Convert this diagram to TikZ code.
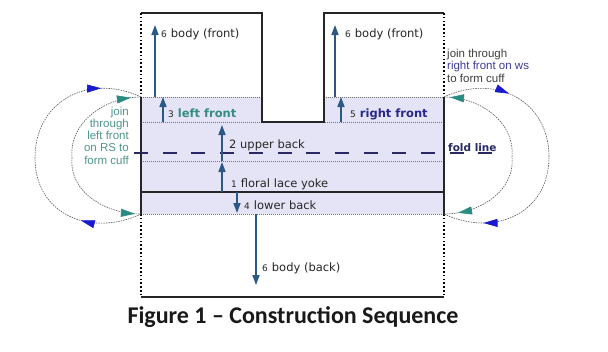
\documentclass[tikz,border=0pt]{standalone}
\usepackage{fontspec}
\setmainfont{DejaVu Sans}
\newfontfamily\notefont{Liberation Sans}
\newfontfamily\capfont{Carlito}
\usetikzlibrary{arrows.meta,decorations.markings}
\definecolor{panel}{RGB}{228,228,246}
\definecolor{stepblue}{RGB}{42,88,135}
\definecolor{foldnavy}{RGB}{40,40,100}
\definecolor{frontteal}{RGB}{52,140,132}
\definecolor{notteal}{RGB}{78,150,140}
\definecolor{frontnavy}{RGB}{40,40,140}
\definecolor{notenavy}{RGB}{60,60,150}
\definecolor{cuffblue}{RGB}{25,25,205}
\definecolor{cuffteal}{RGB}{40,140,130}
\newcommand{\stepno}[1]{{\fontsize{9pt}{10pt}\selectfont #1}\hspace{4pt}}

\begin{document}
\begin{tikzpicture}[x=1pt,y=1pt,outline/.style={draw=black!85,line width=1.4pt},sidedots/.style={draw=black,line width=1.6pt,dash pattern=on 1.6pt off 2.2pt},seam/.style={draw=black!55,line width=0.6pt,dash pattern=on 1pt off 1pt},fold/.style={draw=foldnavy,line width=1.5pt,dash pattern=on 14pt off 14.7pt},stepedge/.style={draw=stepblue,line width=1.6pt,-{Triangle[length=10pt,width=7pt]}},lbl/.style={anchor=base west,inner sep=0pt,text=black!85,font=\fontsize{11.5pt}{13pt}\selectfont},note/.style={inner sep=0pt,font=\notefont\fontsize{11.5pt}{12.3pt}\selectfont},cuff/.style={draw=black!65,line width=0.6pt,dash pattern=on 1.5pt off 1pt},caption/.style={anchor=base,inner sep=0pt,text=black!90,font=\capfont\bfseries\fontsize{24pt}{28pt}\selectfont}]
\useasboundingbox[fill=white] (0,0) rectangle (608,-351);
% shaded pieces
\fill[panel] (141,-97) -- (262,-97) -- (262,-122) -- (324,-122) -- (324,-97) -- (444,-97) -- (444,-214) -- (141,-214) -- cycle;
\draw[seam] (141,-97) -- (262,-97) (324,-97) -- (444,-97);
\draw[seam] (141,-122) -- (444,-122);
\draw[seam] (141,-161) -- (444,-161);
\draw[seam] (141,-214) -- (444,-214);
\draw[fold] (134,-153) -- (497,-153);
% outline
\draw[outline] (141,-13) -- (262,-13) -- (262,-122) -- (324,-122) -- (324,-13) -- (444,-13);
\draw[outline] (141,-97) -- (141,-214) (444,-97) -- (444,-214);
\draw[outline] (141,-192) -- (444,-192);
\draw[outline] (141,-297) -- (444,-297);
\draw[sidedots] (141,-13) -- (141,-97) (141,-214) -- (141,-297);
\draw[sidedots] (444,-13) -- (444,-97) (444,-214) -- (444,-297);
% arrow ends
\coordinate (f6l0) at (155,-97);
\coordinate (f6l1) at (155,-25);
\coordinate (lf0) at (163,-122);
\coordinate (lf1) at (163,-97);
\coordinate (ub0) at (222,-161);
\coordinate (ub1) at (222,-125);
\coordinate (ly0) at (222,-192);
\coordinate (ly1) at (222,-162);
\coordinate (lb0) at (237,-192);
\coordinate (lb1) at (237,-213);
\coordinate (bb0) at (256,-214);
\coordinate (bb1) at (256,-285);
\coordinate (f6r0) at (335,-97);
\coordinate (f6r1) at (335,-25);
\coordinate (rf0) at (341,-122);
\coordinate (rf1) at (341,-97);
% labels
\node[lbl] (tf6l) at (161,-37) {\stepno{6}body (front)};
\node[lbl] (tlf) at (168,-117) {\stepno{3}\textcolor{frontteal}{\bfseries left front}};
\node[lbl] (tub) at (229,-148) {2 upper back};
\node[lbl] (tly) at (231,-187) {\stepno{1}floral lace yoke};
\node[lbl] (tlb) at (244,-209) {\stepno{4}lower back};
\node[lbl] (tbb) at (262,-271) {\stepno{6}body (back)};
\node[lbl] (tf6r) at (345,-37) {\stepno{6}body (front)};
\node[lbl] (trf) at (350,-117) {\stepno{5}\textcolor{frontnavy}{\bfseries right front}};
\node[lbl,text=foldnavy,font=\fontsize{10.5pt}{12pt}\selectfont\bfseries] (tfold) at (448,-151) {fold line};
\node[note,anchor=north east,align=right,text=notteal] (jl) at (129,-106.5) {join\\through\\left front\\on RS to\\form cuff};
\node[note,anchor=north west,align=left,text=black!75] (jr) at (447,-49) {join through\\\textcolor{notenavy}{right front on ws}\\to form cuff};
\node[caption] (cap) at (293,-323) {Figure 1 – Construction Sequence};
% step arrows
\draw[stepedge] (f6l0) -- (f6l1);
\draw[stepedge] (lf0) -- (lf1);
\draw[stepedge] (ub0) -- (ub1);
\draw[stepedge] (ly0) -- (ly1);
\draw[stepedge] (lb0) -- (lb1);
\draw[stepedge] (bb0) -- (bb1);
\draw[stepedge] (f6r0) -- (f6r1);
\draw[stepedge] (rf0) -- (rf1);
% cuff joins
\coordinate (lt) at (141,-97);
\coordinate (lbt) at (141,-214);
\coordinate (lo) at (35,-158);
\coordinate (li) at (72,-158);
\coordinate (rt) at (444,-97);
\coordinate (rbt) at (444,-214);
\coordinate (ro) at (549,-157);
\coordinate (ri) at (512,-157);
\draw[cuff,postaction={decorate,decoration={markings,mark=at position 0.21 with {\arrow{Triangle[length=14pt,width=8pt,color=cuffblue]}},mark=at position 0.86 with {\arrow{Triangle[length=14pt,width=8pt,color=cuffblue]}}}}] (lbt) to[out=205,in=-90,looseness=1.2] (lo) to[out=90,in=155,looseness=1.2] (lt);
\draw[cuff,postaction={decorate,decoration={markings,mark=at position 0.05 with {\arrowreversed{Triangle[length=14pt,width=8pt,color=cuffteal]}},mark=at position 0.97 with {\arrow{Triangle[length=14pt,width=8pt,color=cuffteal]}}}}] (lt) to[out=180,in=95] (li) to[out=-95,in=180] (lbt);
\draw[cuff,postaction={decorate,decoration={markings,mark=at position 0.23 with {\arrow{Triangle[length=14pt,width=8pt,color=cuffblue]}},mark=at position 0.86 with {\arrow{Triangle[length=14pt,width=8pt,color=cuffblue]}}}}] (rt) to[out=25,in=90,looseness=1.2] (ro) to[out=-90,in=-25,looseness=1.2] (rbt);
\draw[cuff,postaction={decorate,decoration={markings,mark=at position 0.07 with {\arrowreversed{Triangle[length=14pt,width=8pt,color=cuffteal]}},mark=at position 0.97 with {\arrow{Triangle[length=14pt,width=8pt,color=cuffteal]}}}}] (rbt) to[out=0,in=-85] (ri) to[out=85,in=0] (rt);
\end{tikzpicture}
\end{document}
